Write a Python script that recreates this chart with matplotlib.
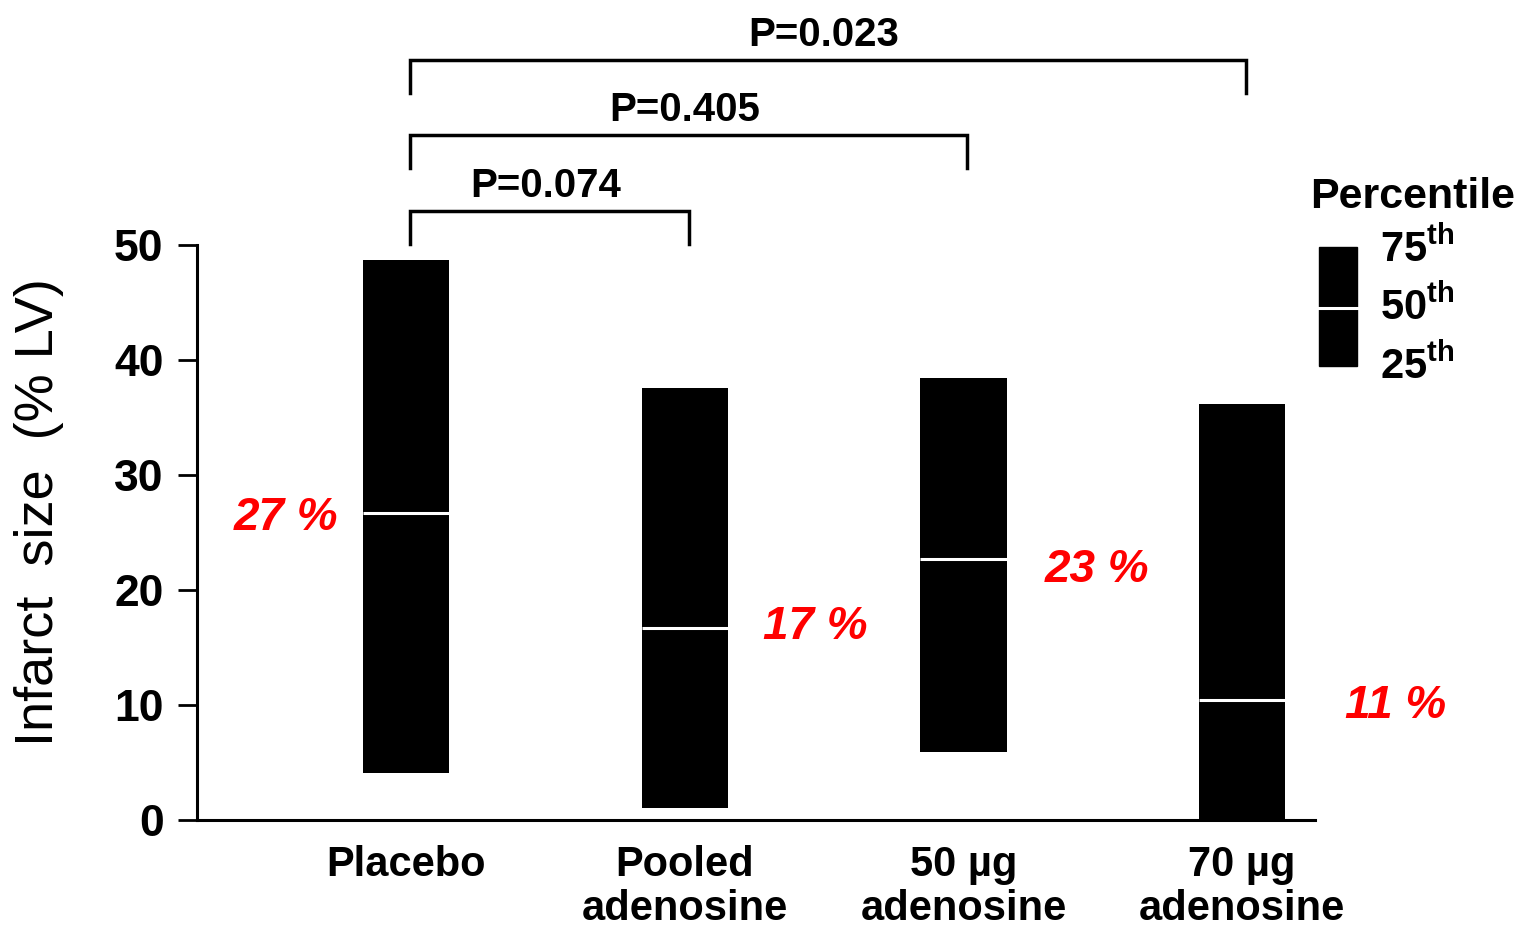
import matplotlib
matplotlib.use("Agg")
import matplotlib.pyplot as plt
from matplotlib.patches import Rectangle

plt.rcParams['font.family'] = ['Liberation Sans', 'DejaVu Sans']
plt.rcParams['mathtext.fontset'] = 'custom'
plt.rcParams['mathtext.rm'] = 'Liberation Sans:bold'
plt.rcParams['mathtext.bf'] = 'Liberation Sans:bold'

# ---- data ----
categories = ["Placebo", "Pooled\nadenosine", "50 µg\nadenosine", "70 µg\nadenosine"]
q25 = [4.1, 1.0, 5.9, 0.0]
q50 = [26.7, 16.7, 22.7, 10.4]
q75 = [48.7, 37.6, 38.4, 36.2]
median_labels = ["27 %", "17 %", "23 %", "11 %"]
label_offsets = [-0.43, 0.47, 0.48, 0.55]
label_y = [26.3, 16.8, 21.7, 9.9]
comparisons = [(0, 1, "P=0.074"), (0, 2, "P=0.405"), (0, 3, "P=0.023")]
bracket_tops = [53.0, 59.6, 66.1]
yticks = [0, 10, 20, 30, 40, 50]
legend_labels = ["75", "50", "25"]

fig = plt.figure(figsize=(15.34, 9.32), dpi=100)
ax = fig.add_axes([0.1284, 0.1202, 0.7286, 0.6168])

x = list(range(len(categories)))
w = 0.31
ax.bar(x, [t - b for t, b in zip(q75, q25)], bottom=q25, width=w, color='black', zorder=2)
ax.hlines(q50, [xi - w / 2 for xi in x], [xi + w / 2 for xi in x], colors='white', lw=2.2, zorder=3)

for xi, lab, off, ly in zip(x, median_labels, label_offsets, label_y):
    ax.text(xi + off, ly, lab, color='#ff0000', fontsize=33, fontweight='bold',
            fontstyle='italic', ha='center', va='center')

# brackets
for (a, b, txt), top in zip(comparisons, bracket_tops):
    drop = 2.9
    ax.plot([a + 0.014, a + 0.014, b + 0.014, b + 0.014], [top - drop, top, top, top - drop],
            color='black', lw=2.5, clip_on=False, solid_joinstyle='miter')
    ax.text((a + b) / 2 if b < 3 else 1.5, top + 0.5, txt, fontsize=29, fontweight='bold',
            ha='center', va='bottom')

ax.set_xlim(-0.75, 3.26)
ax.set_ylim(0, 50)
ax.set_yticks(yticks)
ax.set_yticklabels([str(t) for t in yticks], fontsize=32, fontweight='bold')
ax.tick_params(axis='y', direction='out', length=14, width=2, pad=10)
ax.set_xticks(x)
ax.set_xticklabels(categories, fontsize=30, fontweight='bold', linespacing=1.12)
ax.tick_params(axis='x', length=0, pad=18)
for s in ['top', 'right']:
    ax.spines[s].set_visible(False)
ax.spines['left'].set_linewidth(2.2)
ax.spines['bottom'].set_linewidth(2.2)
ax.set_ylabel("Infarct  size  (% LV)", fontsize=39)
ax.yaxis.set_label_coords(-0.119, 0.535)

# legend
ax.text(3.61, 54.2, "Percentile", fontsize=31, fontweight='bold', ha='center', va='center',
        clip_on=False)
ax.add_patch(Rectangle((3.276, 39.5), 0.136, 10.3, color='black', clip_on=False, zorder=4))
ax.plot([3.276, 3.412], [44.5, 44.5], color='white', lw=2.2, clip_on=False, zorder=5)
for lab, ly in zip(legend_labels, [49.6, 44.6, 39.4]):
    ax.text(3.36 + 0.135, ly, r"$\mathbf{" + lab + r"^{th}}$", fontsize=30,
            ha='left', va='center', clip_on=False)

fig.savefig("out.png", dpi=100, facecolor='white')
